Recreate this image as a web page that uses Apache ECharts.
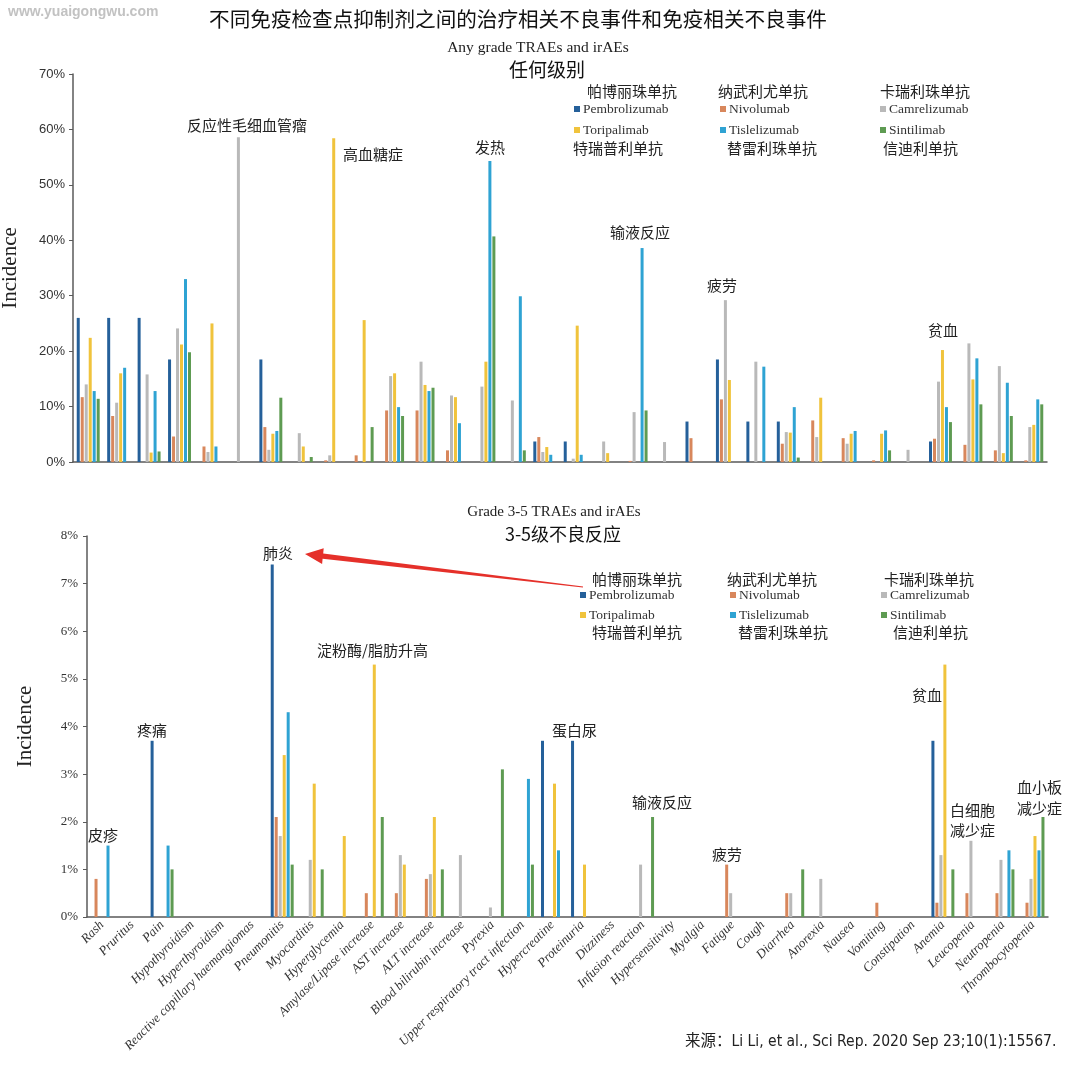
<!DOCTYPE html>
<html>
<head>
<meta charset="utf-8">
<script src="https://cdn.jsdelivr.net/npm/echarts@6/dist/echarts.min.js"></script>
<style>
html,body{margin:0;padding:0;background:#fff;}
#chart{width:1080px;height:1078px;}
</style>
</head>
<body>
<div id="chart"></div>
<script>
// ---- data ----
const categories = ['Rash','Pruritus','Pain','Hypothyroidism','Hyperthyroidism','Reactive capillary haemangiomas','Pneumonitis','Myocarditis','Hyperglycemia','Amylase/Lipase increase','AST increase','ALT increase','Blood bilirubin increase','Pyrexia','Upper respiratory tract infection','Hypercreatine','Proteinuria','Dizziness','Infusion reaction','Hypersensitivity','Myalgia','Fatigue','Cough','Diarrhea','Anorexia','Nausea','Vomiting','Constipation','Anemia','Leucopenia','Neutropenia','Thrombocytopenia'];
const seriesNames = ['Pembrolizumab','Nivolumab','Camrelizumab','Toripalimab','Tislelizumab','Sintilimab'];
const seriesNamesCN = ['帕博丽珠单抗','纳武利尤单抗','卡瑞利珠单抗','特瑞普利单抗','替雷利珠单抗','信迪利单抗'];

// Any grade (%)
const anyPembrolizumab = [26,26,26,18.5,0,0,18.5,0,0,0,0,0,0,0,0,3.7,3.7,0,0,0,7.3,18.5,7.3,7.3,0,0,0,0,3.7,0,0,0];
const anyNivolumab     = [11.7,8.3,0,4.6,2.8,0,6.3,0,0.3,1.2,9.3,9.3,2.1,0,0,4.5,0,0,0.2,0,4.3,11.3,0,3.3,7.5,4.3,0.3,0,4.2,3.1,2.1,0.3];
const anyCamrelizumab  = [14.0,10.7,15.8,24.1,1.8,58.6,2.2,5.2,1.2,0,15.5,18.1,12.0,13.6,11.1,1.8,0.6,3.7,9.0,3.6,0,29.2,18.1,5.4,4.5,3.3,0,2.2,14.5,21.4,17.3,6.3];
const anyToripalimab   = [22.4,16.0,1.7,21.2,25.0,0,5.1,2.8,58.4,25.6,16.0,13.9,11.7,18.1,0,2.7,24.6,1.6,0,0,0,14.8,0,5.3,11.6,5.1,5.1,0,20.2,14.9,1.6,6.7];
const anyTislelizumab  = [12.8,17.0,12.8,33.0,2.8,0,5.6,0,0,0,9.9,12.8,7.0,54.3,29.9,1.3,1.3,0,38.6,0,0,0,17.2,9.9,0,5.6,5.7,0,9.9,18.7,14.3,11.3];
const anySintilimab    = [11.4,0,1.9,19.8,0,0,11.6,0.9,0,6.3,8.3,13.4,0,40.7,2.1,0,0,0,9.3,0,0,0,0,0.8,0,0,2.1,0,7.2,10.4,8.3,10.4];

// Grade 3-5 (%)
const g35Pembrolizumab = [0,0,3.7,0,0,0,7.4,0,0,0,0,0,0,0,0,3.7,3.7,0,0,0,0,0,0,0,0,0,0,0,3.7,0,0,0];
const g35Nivolumab     = [0.8,0,0,0,0,0,2.1,0,0,0.5,0.5,0.8,0,0,0,0,0,0,0,0,0,1.1,0,0.5,0,0,0.3,0,0.3,0.5,0.5,0.3];
const g35Camrelizumab  = [0,0,0,0,0,0,1.7,1.2,0,0,1.3,0.9,1.3,0.2,0,0,0,0,1.1,0,0,0.5,0,0.5,0.8,0,0,0,1.3,1.6,1.2,0.8];
const g35Toripalimab   = [0,0,0,0,0,0,3.4,2.8,1.7,5.3,1.1,2.1,0,0,0,2.8,1.1,0,0,0,0,0,0,0,0,0,0,0,5.3,0,0,1.7];
const g35Tislelizumab  = [1.5,0,1.5,0,0,0,4.3,0,0,0,0,0,0,0,2.9,1.4,0,0,0,0,0,0,0,0,0,0,0,0,0,0,1.4,1.4];
const g35Sintilimab    = [0,0,1.0,0,0,0,1.1,1.0,0,2.1,0,1.0,0,3.1,1.1,0,0,0,2.1,0,0,0,0,1.0,0,0,0,0,1.0,0,1.0,2.1];

const anyTicks = {min:0, max:70, interval:10};
const g35Ticks = {min:0, max:8, interval:1};

// ---- styles ----
const colors = ['#25609A','#D8875C','#B9B9B9','#F0C33C','#2FA3D3','#5E9B52'];
const CN = '"Noto Sans CJK SC", sans-serif';
const SERIF = '"Liberation Serif", "DejaVu Serif", serif';

const anyData = [anyPembrolizumab, anyNivolumab, anyCamrelizumab, anyToripalimab, anyTislelizumab, anySintilimab];
const g35Data = [g35Pembrolizumab, g35Nivolumab, g35Camrelizumab, g35Toripalimab, g35Tislelizumab, g35Sintilimab];
const clean = arr => arr.map(v => v === 0 ? '-' : v);

const series = [];
[anyData, g35Data].forEach((set, gi) => {
  set.forEach((arr, si) => {
    series.push({
      name: seriesNames[si], type: 'bar', xAxisIndex: gi, yAxisIndex: gi,
      data: clean(arr), barWidth: 3, barGap: '33%',
      itemStyle: {color: colors[si]}, emphasis: {disabled: true}
    });
  });
});

// legends: one per item so columns align
const legendPos = [
  {x:[574,720,880], y:[102,123]},
  {x:[580,730,881], y:[588,608]}
];
const legends = [];
legendPos.forEach(p => {
  seriesNames.forEach((n, i) => {
    legends.push({
      data:[n], left: p.x[i%3], top: p.y[Math.floor(i/3)], icon:'rect',
      itemWidth:6, itemHeight:6, itemGap:0, padding:0, selectedMode:false,
      textStyle:{fontFamily:SERIF, fontSize:13.5, color:'#333', padding:[0,0,0,-2]}
    });
  });
});

function txt(text, x, y, size, opts) {
  return {
    type:'text', x:x, y:y,
    style: Object.assign({text:text, fontFamily:CN, fontSize:size, fill:'#222', textAlign:'left', textVerticalAlign:'middle'}, opts || {})
  };
}
const cnLegendPos = [
  [[587,91],[718,91],[880,91],[573,148],[727,148],[883,148]],
  [[592,579],[727,579],[884,579],[592,632],[738,632],[893,632]]
];
const graphics = [
  txt('www.yuaigongwu.com', 8, 12, 14, {fill:'#c2c2c2', fontWeight:'bold', fontFamily:'"Liberation Sans", sans-serif'}),
  txt('不同免疫检查点抑制剂之间的治疗相关不良事件和免疫相关不良事件', 518, 19, 20.6, {textAlign:'center', fill:'#111'}),
  txt('Any grade TRAEs and irAEs', 538, 48, 15.5, {textAlign:'center', fontFamily:SERIF, fill:'#222'}),
  txt('任何级别', 547, 70, 19, {textAlign:'center', fill:'#111'}),
  txt('Grade 3-5 TRAEs and irAEs', 554, 512, 15, {textAlign:'center', fontFamily:SERIF, fill:'#222'}),
  txt('3-5级不良反应', 563, 534, 18, {textAlign:'center', fill:'#111'}),
  // top annotations
  txt('反应性毛细血管瘤', 187, 125, 15),
  txt('高血糖症', 343, 154, 15),
  txt('发热', 475, 147, 15),
  txt('输液反应', 610, 232, 15),
  txt('疲劳', 707, 285, 15),
  txt('贫血', 928, 330, 15),
  // bottom annotations
  txt('肺炎', 263, 553, 15),
  txt('淀粉酶/脂肪升高', 317, 650, 15),
  txt('疼痛', 137, 730, 15),
  txt('蛋白尿', 552, 730, 15),
  txt('皮疹', 88, 835, 15),
  txt('输液反应', 632, 802, 15),
  txt('疲劳', 712, 854, 15),
  txt('贫血', 912, 695, 15),
  txt('白细胞', 950, 810, 15),
  txt('减少症', 950, 830, 15),
  txt('血小板', 1017, 787, 15),
  txt('减少症', 1017, 808, 15),
  txt('来源：Li Li, et al., Sci Rep. 2020 Sep 23;10(1):15567.', 685, 1042, 15.5, {fill:'#222', fontFamily:'"Liberation Sans Narrow", "DejaVu Sans Condensed", "Noto Sans CJK SC", sans-serif'}),
  {
    type:'polygon',
    shape:{points:[[305,554],[323.7,548.2],[323.2,553.4],[583.1,586.4],[582.9,587.6],[322.6,558.8],[322.1,564]]},
    style:{fill:'#E5302A'}
  }
];
cnLegendPos.forEach(pos => pos.forEach((p, i) => graphics.push(txt(seriesNamesCN[i], p[0], p[1], 15))));

const axisLineStyle = {show:true, lineStyle:{color:'#5a5a5a', width:1.5}};

const option = {
  backgroundColor:'#fff',
  animation:false,
  grid:[
    {left:73, top:74, width:974, height:388, containLabel:false, outerBoundsMode:'none'},
    {left:87, top:536, width:961, height:381, containLabel:false, outerBoundsMode:'none'}
  ],
  xAxis:[
    {type:'category', gridIndex:0, data:categories, axisLine:axisLineStyle, axisTick:{show:false}, axisLabel:{show:false}},
    {type:'category', gridIndex:1, data:categories, axisLine:axisLineStyle, axisTick:{show:false},
     axisLabel:{interval:0, rotate:45, fontFamily:SERIF, fontStyle:'italic', fontSize:13, color:'#333', margin:6}}
  ],
  yAxis:[
    {type:'value', gridIndex:0, min:anyTicks.min, max:anyTicks.max, interval:anyTicks.interval,
     axisLine:axisLineStyle, axisTick:{show:true, length:4, lineStyle:{color:'#5a5a5a'}}, splitLine:{show:false},
     axisLabel:{formatter:'{value}%', fontFamily:'"Liberation Sans", sans-serif', fontSize:13, color:'#333', margin:8},
     name:'Incidence', nameLocation:'middle', nameRotate:90, nameGap:52,
     nameTextStyle:{fontFamily:SERIF, fontSize:21, color:'#222'}},
    {type:'value', gridIndex:1, min:g35Ticks.min, max:g35Ticks.max, interval:g35Ticks.interval,
     axisLine:axisLineStyle, axisTick:{show:true, length:4, lineStyle:{color:'#5a5a5a'}}, splitLine:{show:false},
     axisLabel:{formatter:'{value}%', fontFamily:SERIF, fontSize:13, color:'#333', margin:9},
     name:'Incidence', nameLocation:'middle', nameRotate:90, nameGap:51,
     nameTextStyle:{fontFamily:SERIF, fontSize:21, color:'#222'}}
  ],
  legend: legends,
  graphic: graphics,
  series: series
};
const chart = echarts.init(document.getElementById('chart'), null, {renderer:'canvas'});
chart.setOption(option);
</script>
</body>
</html>
